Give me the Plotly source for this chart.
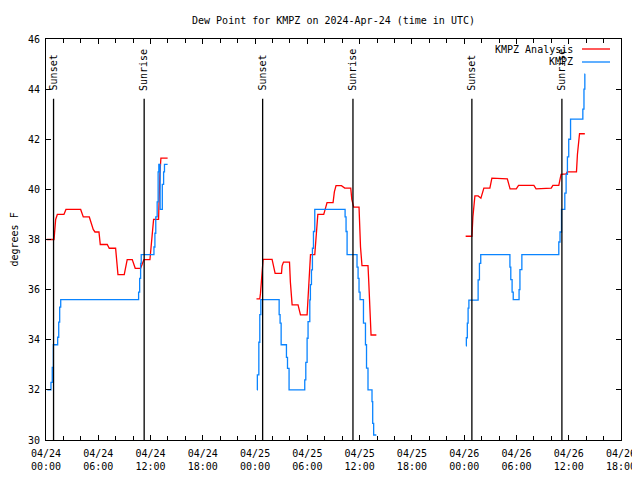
import datetime as dt
import plotly.graph_objects as go

# ---- data (hours after 2024-04-24 00:00 UTC, dew point in F) ----
analysis_seg1_h = [0.08, 0.92, 1.11, 1.30, 2.06, 2.29, 3.98, 4.28, 4.97, 5.42, 5.62, 6.08, 6.23, 7.03, 7.26,
                   7.99, 8.26, 8.98, 9.32, 9.90, 10.24, 10.86, 11.24, 11.93, 12.35, 12.92, 13.07, 13.19, 13.96]
analysis_seg1_v = [38.0, 38.0, 38.8, 39.0, 39.0, 39.2, 39.2, 38.9, 38.9, 38.4, 38.3, 38.3, 37.8, 37.8, 37.65,
                   37.65, 36.6, 36.6, 37.2, 37.2, 36.85, 36.85, 37.2, 37.2, 38.8, 38.8, 40.6, 41.25, 41.25]
analysis_seg2_h = [24.16, 24.54, 24.62, 24.74, 24.85, 24.92, 25.95, 26.10, 26.30, 27.03, 27.10, 27.26, 27.95,
                   28.05, 28.25, 28.93, 29.10, 29.21, 29.97, 30.10, 30.25, 30.36, 30.85, 30.90, 31.04, 31.20,
                   31.88, 32.10, 32.26, 32.95, 33.10, 33.29, 33.91, 34.29, 34.98, 35.10, 35.32, 35.93, 36.00,
                   36.10, 36.27, 36.96, 37.05, 37.15, 37.25, 37.31, 37.92]
analysis_seg2_v = [35.63, 35.63, 35.86, 36.39, 36.95, 37.21, 37.21, 36.9, 36.65, 36.65, 36.95, 37.1, 37.1,
                   36.3, 35.39, 35.39, 35.2, 34.99, 34.99, 35.8, 36.9, 37.4, 37.4, 37.65, 38.2, 39.0,
                   39.0, 39.3, 39.47, 39.47, 39.9, 40.15, 40.15, 40.05, 40.05, 39.6, 39.29, 39.29, 38.5,
                   37.7, 36.96, 36.96, 36.3, 35.4, 34.6, 34.19, 34.19]
analysis_seg3_h = [48.17, 48.89, 49.00, 49.16, 49.23, 49.60, 49.92, 50.26, 50.95, 51.18, 52.95, 53.27, 53.98,
                   54.24, 56.00, 56.25, 57.99, 58.18, 58.86, 59.12, 59.71, 59.83, 60.89, 61.00, 61.24, 61.85]
analysis_seg3_v = [38.13, 38.13, 38.9, 39.7, 39.74, 39.74, 39.65, 40.05, 40.05, 40.45, 40.42, 40.02, 40.02,
                   40.16, 40.16, 40.02, 40.05, 40.16, 40.16, 40.6, 40.62, 40.7, 40.7, 41.4, 42.22, 42.22]

obs_seg1_h = [0.15, 0.57, 0.72, 0.84, 1.34, 1.46, 1.57, 1.69, 10.63, 10.75, 10.86, 10.93, 12.39, 12.50,
              12.60, 12.76, 12.87, 12.95, 13.10, 13.35, 13.50, 13.60, 13.96]
obs_seg1_v = [32.0, 32.3, 32.9, 33.8, 34.1, 34.7, 35.3, 35.6, 35.9, 36.45, 37.05, 37.4, 37.7, 38.25,
              38.9, 39.5, 40.7, 41.0, 39.2, 40.2, 40.7, 41.0, 41.0]
obs_seg2_h = [24.23, 24.26, 24.43, 24.54, 24.66, 26.76, 26.87, 26.99, 27.60, 27.72, 27.90, 29.70, 29.82,
              29.97, 30.08, 30.28, 30.35, 30.47, 30.58, 30.70, 30.85, 34.33, 34.44, 34.56, 35.70, 35.82,
              35.93, 36.05, 36.44, 36.67, 36.79, 36.96, 37.42, 37.50, 37.61, 37.92]
obs_seg2_v = [32.0, 32.6, 33.9, 35.0, 35.6, 35.0, 34.66, 33.8, 33.3, 32.86, 32.0, 32.4, 33.1,
              34.06, 34.72, 35.59, 36.2, 36.79, 37.65, 38.32, 39.2, 38.9, 38.32, 37.4, 36.9, 36.45,
              35.9, 35.6, 34.66, 33.8, 32.87, 32.0, 31.53, 30.66, 30.2, 30.2]
obs_seg3_h = [48.20, 48.25, 48.36, 48.45, 48.54, 49.60, 49.75, 49.90, 53.25, 53.35, 53.50, 53.63, 54.30,
              54.40, 54.62, 58.86, 59.00, 59.17, 59.55, 59.70, 59.85, 60.00, 60.21, 61.62, 61.75, 61.85, 61.89]
obs_seg3_v = [33.76, 34.08, 34.66, 35.26, 35.58, 36.39, 37.05, 37.4, 36.9, 36.4, 35.9, 35.6, 36.0,
              36.8, 37.4, 37.9, 38.3, 39.2, 39.85, 40.6, 41.3, 42.0, 42.8, 43.2, 44.0, 44.6, 44.6]

sunset_times = ["2024-04-24 00:52", "2024-04-25 00:52", "2024-04-26 00:53"]
sunrise_times = ["2024-04-24 11:16", "2024-04-25 11:14", "2024-04-26 11:13"]

title_text = "Dew Point for KMPZ on 2024-Apr-24 (time in UTC)"
series_names = ["KMPZ Analysis", "KMPZ"]

# ---- build ----
base = dt.datetime(2024, 4, 24, 0, 0)


def join(segs):
    xs, ys = [], []
    for hs, vs in segs:
        if xs:
            xs.append(None)
            ys.append(None)
        xs += [base + dt.timedelta(hours=h) for h in hs]
        ys += vs
    return xs, ys


ax, ay = join([(analysis_seg1_h, analysis_seg1_v), (analysis_seg2_h, analysis_seg2_v),
               (analysis_seg3_h, analysis_seg3_v)])
ox, oy = join([(obs_seg1_h, obs_seg1_v), (obs_seg2_h, obs_seg2_v), (obs_seg3_h, obs_seg3_v)])

RED = "#ff0000"
BLUE = "#0a84ff"
FONT = "DejaVu Sans Mono"

# the page body adds an 8px offset; figure is sized so the plot lands where the reference has it
OFF = 8
FIG_W, FIG_H = 640 - OFF, 480 - OFF
ML, MT = 46 - OFF, 31
MR, MB = 19, 40

fig = go.Figure()
fig.add_trace(go.Scatter(x=ax, y=ay, mode="lines", name=series_names[0],
                         line=dict(color=RED, width=1.3), connectgaps=False))
fig.add_trace(go.Scatter(x=ox, y=oy, mode="lines", name=series_names[1],
                         line=dict(color=BLUE, width=1.3, shape="hv"), connectgaps=False))

shapes = []
annotations = []
for label, times in (("Sunset", sunset_times), ("Sunrise", sunrise_times)):
    for t in times:
        shapes.append(dict(type="line", xref="x", yref="y", x0=t, x1=t, y0=30, y1=43.62,
                           line=dict(color="black", width=1.3)))
        annotations.append(dict(xref="x", yref="y", x=t, y=43.85, text=label, showarrow=False,
                                textangle=-90, xanchor="center", yanchor="bottom",
                                font=dict(family=FONT, size=10, color="black")))

# legend drawn gnuplot-style: text right-aligned, sample on the right
W, H, L = 575.0, 401.0, 46.0
for name, col, ypx in ((series_names[0], RED, 49), (series_names[1], BLUE, 62)):
    yp = (440 - ypx) / H
    annotations.append(dict(xref="paper", yref="paper", x=(575 - L) / W, y=yp, text=name,
                            showarrow=False, xanchor="right", yanchor="middle",
                            font=dict(family=FONT, size=10, color="black")))
    shapes.append(dict(type="line", xref="paper", yref="paper", x0=(582 - L) / W, x1=(610 - L) / W,
                       y0=yp, y1=yp, line=dict(color=col, width=1.3)))

annotations.append(dict(xref="paper", yref="paper", x=(14 - L) / W, y=0.5, text="degrees F",
                        showarrow=False, textangle=-90, xanchor="center", yanchor="middle",
                        font=dict(family=FONT, size=10, color="black")))

fig.update_layout(
    width=FIG_W, height=FIG_H,
    margin=dict(l=ML, r=MR, t=MT, b=MB, autoexpand=False),
    paper_bgcolor="white", plot_bgcolor="white",
    showlegend=False,
    font=dict(family=FONT, size=10, color="black"),
    title=dict(text=title_text, x=0.5, xref="paper", xanchor="center",
               y=1 - (20 - OFF) / FIG_H, yref="container", yanchor="middle",
               font=dict(family=FONT, size=10, color="black")),
    shapes=shapes, annotations=annotations,
)
fig.update_xaxes(
    type="date", range=["2024-04-24 00:00", "2024-04-26 18:00"], automargin=False,
    dtick=6 * 3600 * 1000, tick0="2024-04-24 00:00", tickformat="%m/%d<br>%H:%M",
    ticks="inside", ticklen=5, tickcolor="black", tickwidth=1, ticklabelstandoff=4,
    minor=dict(dtick=2 * 3600 * 1000, ticks="inside", ticklen=4, tickcolor="black", tickwidth=1),
    showline=True, linecolor="black", linewidth=1, mirror="allticks",
    showgrid=False, zeroline=False, tickfont=dict(family=FONT, size=10, color="black"),
)
fig.update_yaxes(
    range=[30, 46], dtick=2, tick0=30, automargin=False,
    ticks="inside", ticklen=5, tickcolor="black", tickwidth=1, ticklabelstandoff=3,
    showline=True, linecolor="black", linewidth=1, mirror="allticks",
    showgrid=False, zeroline=False, tickfont=dict(family=FONT, size=10, color="black"),
)

fig.write_html("out.html")
